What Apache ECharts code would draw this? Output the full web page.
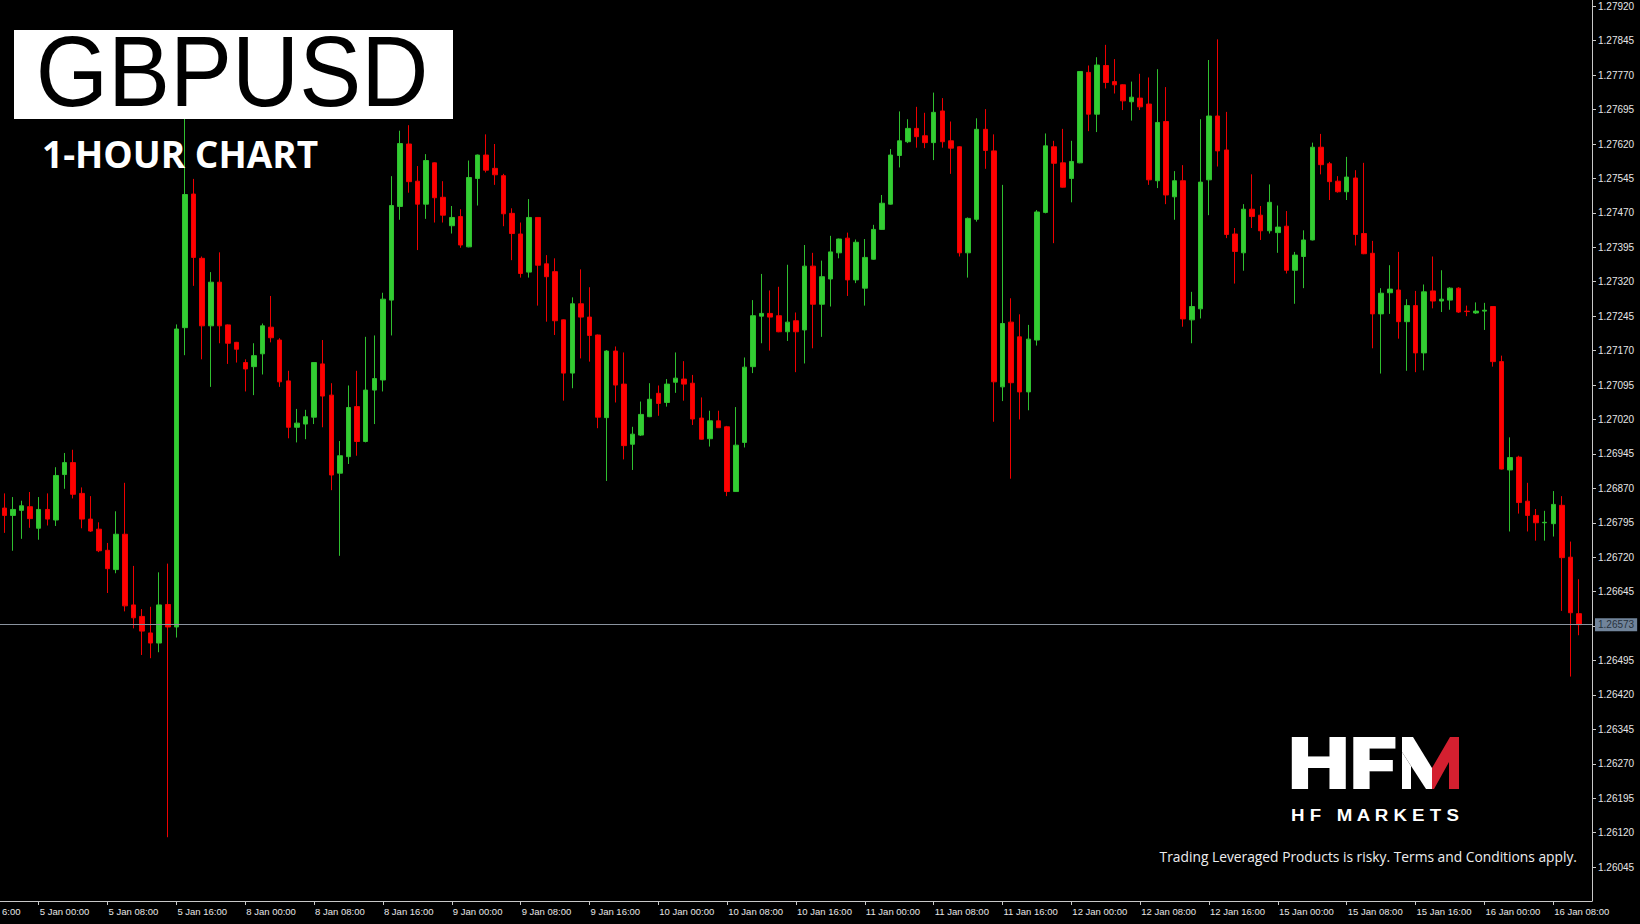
<!DOCTYPE html>
<html>
<head>
<meta charset="utf-8">
<script src="https://cdn.jsdelivr.net/npm/echarts@6/dist/echarts.min.js"></script>
<style>
html,body{margin:0;padding:0;background:#000;}
#chart{width:1640px;height:924px;}
</style>
</head>
<body>
<div id="chart"></div>
<script>
// ---- DATA (hourly GBPUSD, 4 Jan 20:00 -> 16 Jan 11:00) ----
const dayLabels = ['4 Jan','5 Jan','8 Jan','9 Jan','10 Jan','11 Jan','12 Jan','15 Jan','16 Jan'];
const offChartLabel = '4 Jan 16:00';
const dataStart = '4 Jan 20:00';
const dataEnd = '16 Jan 11:00';

const opens = [
1.26827,1.26811,1.26822,1.26830,1.26783,1.26824,1.26801,1.26900,1.26926,1.26859,
1.26803,1.26781,1.26735,1.26693,1.26770,1.26616,1.26591,1.26555,1.26533,1.26617,
1.26568,1.27220,1.27511,1.27371,1.27224,1.27319,1.27226,1.27188,1.27144,1.27135,
1.27163,1.27221,1.27193,1.27104,1.27003,1.27010,1.27025,1.27141,1.27073,1.26903,
1.26939,1.27048,1.26972,1.27084,1.27106,1.27280,1.27484,1.27620,1.27539,1.27489,
1.27579,1.27504,1.27442,1.27462,1.27396,1.27545,1.27596,1.27567,1.27551,1.27469,
1.27424,1.27341,1.27460,1.27359,1.27342,1.27237,1.27121,1.27272,1.27243,1.27204,
1.27024,1.27169,1.27097,1.26966,1.26986,1.27026,1.27077,1.27057,1.27101,1.27108,
1.27099,1.27023,1.26978,1.27017,1.27004,1.26863,1.26970,1.27135,1.27245,1.27251,
1.27246,1.27211,1.27235,1.27215,1.27354,1.27271,1.27326,1.27383,1.27415,1.27324,
1.27306,1.27369,1.27434,1.27489,1.27595,1.27625,1.27654,1.27638,1.27623,1.27692,
1.27627,1.27614,1.27383,1.27456,1.27652,1.27605,1.27091,1.27232,1.27200,1.27080,
1.27193,1.27471,1.27614,1.27579,1.27545,1.27579,1.27776,1.27685,1.27791,1.27756,
1.27749,1.27712,1.27720,1.27707,1.27540,1.27669,1.27505,1.27540,1.27237,1.27261,
1.27542,1.27681,1.27607,1.27424,1.27383,1.27478,1.27465,1.27431,1.27427,1.27441,
1.27345,1.27375,1.27411,1.27613,1.27577,1.27539,1.27516,1.27546,1.27425,1.27382,
1.27250,1.27296,1.27302,1.27233,1.27268,1.27165,1.27300,1.27278,1.27280,1.27306,
1.27256,1.27252,1.27256,1.27266,1.27146,1.26910,1.26938,1.26842,1.26811,1.26795,
1.26793,1.26833,1.26720,1.26597
];
const highs = [
1.26859,1.26851,1.26843,1.26862,1.26851,1.26859,1.26916,1.26947,1.26954,1.26872,
1.26853,1.26796,1.26751,1.26820,1.26882,1.26701,1.26607,1.26612,1.26687,1.26706,
1.27227,1.27680,1.27544,1.27375,1.27341,1.27384,1.27227,1.27189,1.27151,1.27186,
1.27229,1.27289,1.27197,1.27126,1.27043,1.27041,1.27145,1.27193,1.27099,1.26973,
1.27094,1.27126,1.27200,1.27203,1.27296,1.27550,1.27649,1.27661,1.27572,1.27598,
1.27580,1.27539,1.27485,1.27478,1.27584,1.27597,1.27641,1.27620,1.27555,1.27480,
1.27449,1.27500,1.27461,1.27378,1.27371,1.27238,1.27286,1.27347,1.27308,1.27205,
1.27171,1.27179,1.27166,1.27004,1.27059,1.27099,1.27094,1.27108,1.27166,1.27147,
1.27117,1.27068,1.27039,1.27039,1.27006,1.27047,1.27155,1.27280,1.27337,1.27301,
1.27309,1.27357,1.27253,1.27400,1.27383,1.27366,1.27420,1.27414,1.27427,1.27412,
1.27413,1.27444,1.27509,1.27609,1.27691,1.27674,1.27701,1.27688,1.27732,1.27720,
1.27669,1.27615,1.27460,1.27676,1.27696,1.27641,1.27531,1.27284,1.27249,1.27226,
1.27476,1.27643,1.27627,1.27653,1.27627,1.27779,1.27791,1.27809,1.27836,1.27805,
1.27750,1.27756,1.27773,1.27765,1.27783,1.27744,1.27561,1.27574,1.27298,1.27674,
1.27803,1.27848,1.27690,1.27437,1.27489,1.27554,1.27485,1.27532,1.27486,1.27474,
1.27385,1.27432,1.27623,1.27642,1.27581,1.27550,1.27592,1.27563,1.27579,1.27409,
1.27306,1.27356,1.27385,1.27282,1.27300,1.27314,1.27375,1.27345,1.27308,1.27308,
1.27268,1.27275,1.27274,1.27267,1.27159,1.26981,1.26941,1.26882,1.26825,1.26821,
1.26864,1.26853,1.26754,1.26672
];
const lows = [
1.26773,1.26734,1.26760,1.26784,1.26758,1.26789,1.26788,1.26869,1.26848,1.26783,
1.26775,1.26731,1.26642,1.26685,1.26602,1.26565,1.26507,1.26500,1.26513,1.26110,
1.26545,1.27160,1.27311,1.27151,1.27091,1.27186,1.27141,1.27144,1.27081,1.27073,
1.27118,1.27188,1.27091,1.26979,1.26970,1.26977,1.27010,1.27003,1.26866,1.26723,
1.26923,1.26941,1.26970,1.27010,1.27081,1.27203,1.27455,1.27514,1.27389,1.27457,
1.27449,1.27449,1.27425,1.27394,1.27395,1.27486,1.27558,1.27531,1.27441,1.27367,
1.27329,1.27329,1.27268,1.27233,1.27204,1.27061,1.27088,1.27153,1.27146,1.27001,
1.26886,1.27057,1.26933,1.26910,1.26984,1.27025,1.27028,1.27048,1.27078,1.27061,
1.27008,1.26976,1.26961,1.27002,1.26853,1.26862,1.26959,1.27121,1.27186,1.27170,
1.27210,1.27191,1.27123,1.27142,1.27175,1.27200,1.27266,1.27371,1.27289,1.27317,
1.27268,1.27368,1.27433,1.27488,1.27569,1.27622,1.27612,1.27611,1.27585,1.27612,
1.27555,1.27375,1.27329,1.27451,1.27566,1.27015,1.27060,1.26891,1.27020,1.27040,
1.27181,1.27469,1.27404,1.27525,1.27493,1.27578,1.27648,1.27646,1.27741,1.27730,
1.27694,1.27671,1.27694,1.27531,1.27524,1.27489,1.27455,1.27222,1.27186,1.27240,
1.27465,1.27571,1.27415,1.27316,1.27344,1.27437,1.27411,1.27425,1.27383,1.27338,
1.27272,1.27306,1.27410,1.27554,1.27498,1.27514,1.27498,1.27399,1.27380,1.27175,
1.27120,1.27250,1.27196,1.27126,1.27123,1.27127,1.27262,1.27254,1.27259,1.27252,
1.27245,1.27250,1.27215,1.27135,1.26911,1.26776,1.26815,1.26776,1.26756,1.26756,
1.26765,1.26603,1.26460,1.26550
];
const closes = [
1.26811,1.26824,1.26832,1.26804,1.26824,1.26803,1.26898,1.26926,1.26857,1.26803,
1.26777,1.26734,1.26695,1.26770,1.26614,1.26588,1.26559,1.26533,1.26616,1.26568,
1.27217,1.27510,1.27373,1.27224,1.27319,1.27224,1.27186,1.27173,1.27130,1.27159,
1.27224,1.27198,1.27102,1.27003,1.27012,1.27026,1.27144,1.27071,1.26899,1.26941,
1.27046,1.26972,1.27084,1.27109,1.27282,1.27486,1.27621,1.27538,1.27489,1.27584,
1.27503,1.27465,1.27460,1.27400,1.27547,1.27596,1.27563,1.27553,1.27468,1.27425,
1.27338,1.27460,1.27356,1.27331,1.27235,1.27121,1.27272,1.27243,1.27203,1.27025,
1.27169,1.27095,1.26963,1.26988,1.27031,1.27064,1.27055,1.27097,1.27110,1.27097,
1.27021,1.26977,1.27017,1.27002,1.26863,1.26964,1.27134,1.27246,1.27251,1.27243,
1.27211,1.27232,1.27211,1.27354,1.27271,1.27331,1.27385,1.27413,1.27324,1.27406,
1.27373,1.27434,1.27491,1.27596,1.27627,1.27654,1.27636,1.27623,1.27689,1.27625,
1.27611,1.27383,1.27458,1.27652,1.27606,1.27102,1.27229,1.27100,1.27080,1.27195,
1.27472,1.27616,1.27578,1.27526,1.27582,1.27778,1.27685,1.27792,1.27754,1.27749,
1.27714,1.27722,1.27701,1.27542,1.27667,1.27509,1.27540,1.27239,1.27266,1.27537,
1.27681,1.27605,1.27423,1.27386,1.27478,1.27462,1.27431,1.27493,1.27439,1.27345,
1.27378,1.27411,1.27613,1.27575,1.27538,1.27516,1.27548,1.27423,1.27381,1.27250,
1.27295,1.27304,1.27233,1.27268,1.27165,1.27298,1.27278,1.27282,1.27306,1.27254,
1.27255,1.27256,1.27258,1.27146,1.26912,1.26937,1.26839,1.26811,1.26795,1.26796,
1.26835,1.26719,1.26599,1.26573
];
const priceTicks = [1.26045,1.26120,1.26195,1.26270,1.26345,1.26420,1.26495,1.26570,1.26645,1.26720,
  1.26795,1.26870,1.26945,1.27020,1.27095,1.27170,1.27245,1.27320,1.27395,1.27470,
  1.27545,1.27620,1.27695,1.27770,1.27845,1.27920];
const tickLabelsShown = priceTicks.filter(v => Math.abs(v - 1.26570) > 1e-7);
const currentPrice = 1.26573;
const yMin = 1.259711, yMax = 1.279337;

// ---- build categories & series ----
const hours = [];
for (let h = 0; h < 24; h++) hours.push((h < 10 ? '0' : '') + h + ':00');
const allTimes = [];
dayLabels.forEach(d => hours.forEach(h => allTimes.push(d + ' ' + h)));
const categories = allTimes.slice(allTimes.indexOf(dataStart), allTimes.indexOf(dataEnd) + 1);
categories.push('');   // right-hand shift slot
const candleData = opens.map((o, i) => [o, closes[i], lows[i], highs[i]]);
candleData.push('-');
const labelPhase = (allTimes.indexOf(dataStart) - allTimes.indexOf(offChartLabel)); // 4
const every8 = (idx) => (idx + labelPhase) % 8 === 0;

const chart = echarts.init(document.getElementById('chart'), null, {renderer: 'svg', width: 1640, height: 924});
const axisColor = '#c8c8c8';
const labelColor = '#e6e6e6';
const fontFam = 'Liberation Sans, Arial, sans-serif';
const gridLeft = 0, gridRight = 48, gridBottom = 23;

chart.setOption({
  backgroundColor: '#000000',
  animation: false,
  grid: {left: gridLeft, right: gridRight, top: 0, bottom: gridBottom, containLabel: false},
  xAxis: {
    type: 'category',
    data: categories,
    boundaryGap: true,
    axisLine: {show: true, lineStyle: {color: axisColor, width: 1}},
    axisTick: {show: true, interval: every8, alignWithLabel: true, length: 4, lineStyle: {color: axisColor}},
    axisLabel: {show: true, interval: every8, align: 'left', color: labelColor, fontSize: 9.5,
      fontFamily: fontFam, margin: 5, padding: [0, 0, 0, 1]},
    splitLine: {show: false}
  },
  yAxis: {
    type: 'value',
    position: 'right',
    min: yMin, max: yMax, scale: true,
    axisLine: {show: true, onZero: false, lineStyle: {color: axisColor, width: 1}},
    axisTick: {show: true, length: 4, customValues: priceTicks, lineStyle: {color: axisColor}},
    axisLabel: {show: true, customValues: tickLabelsShown, color: labelColor, fontSize: 10,
      fontFamily: fontFam, margin: 6, formatter: v => v.toFixed(5)},
    splitLine: {show: false}
  },
  series: [{
    type: 'candlestick',
    data: candleData,
    barWidth: 5,
    itemStyle: {color: '#32cd32', color0: '#ff0000', borderColor: '#2fbf2f', borderColor0: '#ee0000', borderWidth: 1}
  }, {
    type: 'line',
    data: [],
    silent: true,
    markLine: {
      silent: true, symbol: ['none', 'none'], animation: false, precision: 5,
      lineStyle: {color: '#8a939e', width: 1, type: 'solid'},
      label: {show: true, position: 'end', formatter: currentPrice.toFixed(5), color: '#27323d',
        backgroundColor: '#71849a', padding: [2, 3, 1, 3], fontSize: 10, fontFamily: fontFam, distance: 3},
      data: [{yAxis: currentPrice}]
    }
  }],
  graphic: [
    // visible tail of the off-chart time label (the rest lies left of the picture)
    {type: 'text', z: 5, x: 2, y: 901 + 5,
      style: {text: offChartLabel.slice(-4), fill: labelColor, font: '9.5px "Liberation Sans", Arial, sans-serif', textAlign: 'left', textVerticalAlign: 'top'}},
    {type: 'rect', z: 100, shape: {x: 14, y: 30, width: 439, height: 89}, style: {fill: '#ffffff'}},
    {type: 'text', z: 101, x: 232, y: 71, scaleX: 0.93, scaleY: 1, originX: 0, originY: 0,
      style: {text: 'GBPUSD', fill: '#000000', font: '100px "Liberation Sans", Arial, sans-serif', textAlign: 'center', textVerticalAlign: 'middle'}},
    {type: 'text', z: 101, x: 42, y: 153,
      style: {text: '1-HOUR CHART', fill: '#ffffff', font: 'bold 37px "Open Sans", sans-serif', textAlign: 'left', textVerticalAlign: 'middle'}},
    {type: 'text', z: 101, x: 1288, y: 763, scaleX: 1.14, scaleY: 1, originX: 0, originY: 0,
      style: {text: 'HF', fill: '#ffffff', font: '900 72px Inter, sans-serif', textAlign: 'left', textVerticalAlign: 'middle'}},
    {type: 'polygon', z: 101, shape: {points: [[1402,737],[1413,737],[1432,768],[1432,789],[1426,789],[1402,752]]}, style: {fill: '#ffffff'}},
    {type: 'polygon', z: 101, shape: {points: [[1402,752],[1411,766],[1411,789],[1402,789]]}, style: {fill: '#ffffff'}},
    {type: 'polygon', z: 101, shape: {points: [[1432,768],[1450,737],[1459,737],[1459,789],[1449,789],[1449,762],[1434,789],[1432,789]]}, style: {fill: '#d42030'}},
    {type: 'text', z: 101, x: 1291, y: 815, scaleX: 1.1, scaleY: 1, originX: 0, originY: 0,
      style: {text: 'H F   M A R K E T S', fill: '#ffffff', font: 'bold 17px "Liberation Sans", Arial, sans-serif', textAlign: 'left', textVerticalAlign: 'middle'}},
    {type: 'text', z: 101, x: 1577, y: 856,
      style: {text: 'Trading Leveraged Products is risky. Terms and Conditions apply.', fill: '#eeeeee', font: '13.8px "Open Sans", sans-serif', textAlign: 'right', textVerticalAlign: 'middle'}}
  ]
});
</script>
</body>
</html>
